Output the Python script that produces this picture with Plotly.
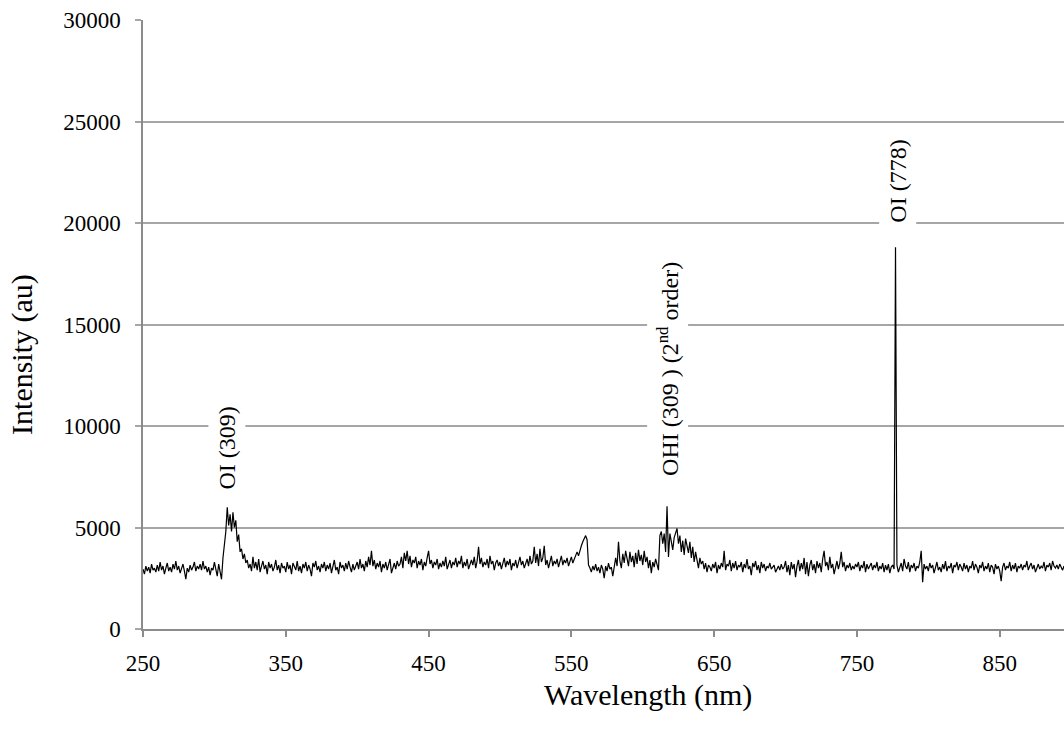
import plotly.graph_objects as go

# Wavelength grid (nm), 1 nm step
wavelength_start = 250

intensity = [
    # 250-259
    2950, 2700, 3100, 2850, 3050, 2750, 3200, 2900, 3000, 2800,
    # 260-269
    3150, 2850, 3300, 2900, 3100, 2700, 3000, 3250, 2850, 3050,
    # 270-279
    2800, 3200, 2950, 3350, 2900, 3100, 2750, 3000, 3200, 2850,
    # 280-289
    2450, 3000, 2800, 3150, 2900, 3050, 3300, 2850, 3100, 2950,
    # 290-299
    3200, 2900, 3350, 2950, 3100, 2800, 3050, 2650, 3000, 2900,
    # 300-309
    3300, 2950, 2600, 3200, 2850, 2450, 3500, 4200, 4800, 6000,
    # 310-319
    5100, 5650, 4800, 5750, 5000, 5350, 4300, 4650, 3800, 3950,
    # 320-329
    3450, 3700, 3250, 3400, 3000, 3200, 2850, 3550, 3000, 3300,
    # 330-339
    2900, 3450, 2800, 3100, 3350, 2950, 3150, 2700, 3300, 3000,
    # 340-349
    3200, 2850, 3050, 3400, 2900, 3150, 2750, 3250, 3000, 3100,
    # 350-359
    2800, 3300, 2950, 3150, 2700, 3250, 3050, 2900, 3350, 2850,
    # 360-369
    3100, 2750, 3200, 3000, 3300, 2850, 3150, 2950, 2600, 3250,
    # 370-379
    3050, 3350, 2900, 3100, 2800, 3200, 3000, 3300, 2850, 3150,
    # 380-389
    2950, 3250, 2750, 3100, 3400, 2900, 3050, 2700, 3300, 3000,
    # 390-399
    3150, 2850, 3250, 2950, 3350, 3050, 2800, 3200, 2900, 3100,
    # 400-409
    3300, 2950, 3450, 3000, 3200, 2850, 3350, 3050, 3550, 3150,
    # 410-419
    3850, 3100, 3400, 2950, 3250, 3050, 3350, 2800, 3200, 3000,
    # 420-429
    3300, 2900, 3150, 3450, 2750, 3050, 3250, 2950, 3350, 3100,
    # 430-439
    3200, 3550, 3000, 3750, 3350, 3850, 3200, 3600, 3050, 3400,
    # 440-449
    3250, 3550, 3000, 3350, 3150, 3450, 2900, 3300, 3100, 3500,
    # 450-459
    3850, 3200, 3400, 3000, 3300, 3150, 3450, 2950, 3250, 3050,
    # 460-469
    3350, 3100, 3550, 2950, 3250, 3400, 3000, 3300, 3150, 3500,
    # 470-479
    3050, 3350, 3200, 3600, 3000, 3300, 3100, 3450, 2950, 3250,
    # 480-489
    3400, 3150, 3550, 3000, 3350, 4050, 3200, 3500, 3050, 3300,
    # 490-499
    3150, 3450, 3000, 3600, 3200, 3350, 2900, 3250, 3400, 3100,
    # 500-509
    3300, 2950, 3200, 3500, 3050, 3350, 3150, 3450, 2900, 3250,
    # 510-519
    3100, 3400, 3000, 3300, 3550, 3150, 3350, 3000, 3250, 3450,
    # 520-529
    3100, 3600, 3200, 3350, 4050, 3250, 3700, 3100, 3950, 3300,
    # 530-539
    3500, 4100, 3150, 3400, 3000, 3300, 3600, 3100, 3350, 3200,
    # 540-549
    3450, 3050, 3300, 3600, 3150, 3400, 3250, 3500, 3100, 3350,
    # 550-559
    3550, 3250, 3450, 3650, 3800, 3600, 3900, 4100, 4300, 4450,
    # 560-569
    4600, 4400, 3150, 3000, 2800, 3100, 2900, 3200, 2850, 3050,
    # 570-579
    2750, 3150, 2950, 2500, 3100, 2850, 3250, 2950, 3050, 2600,
    # 580-589
    3200, 3500, 3100, 4300, 3350, 3000, 3700, 3250, 3850, 3400,
    # 590-599
    3100, 3800, 3300, 3600, 3050, 3750, 3200, 3900, 3350, 3650,
    # 600-609
    3150, 3850, 3300, 3550, 3000, 3400, 2750, 3300, 3050, 3450,
    # 610-619
    3100, 2900, 4600, 4800, 4200, 4700, 3800, 6050, 3550, 4700,
    # 620-629
    4300, 3900, 4500, 4800, 4950, 4200, 4600, 3800, 4350, 3650,
    # 630-639
    4450, 4100, 3750, 4300, 3500, 4050, 3300, 3800, 3400, 3000,
    # 640-649
    3500, 3200, 3350, 2950, 3250, 2800, 3150, 3050, 2850, 3200,
    # 650-659
    3000, 3300, 2750, 3150, 2950, 3250, 3050, 3850, 2900, 3200,
    # 660-669
    3100, 3400, 2850, 3250, 3000, 3350, 2900, 3150, 3050, 3300,
    # 670-679
    2800, 3200, 3000, 3450, 2950, 3100, 2650, 3250, 3050, 3350,
    # 680-689
    2900, 3150, 2750, 3300, 3000, 3200, 2850, 3100, 3000, 3250,
    # 690-699
    2950, 3050, 3150, 2800, 3000, 3100, 2900, 3200, 2950, 3050,
    # 700-709
    3350, 2800, 3150, 2650, 3300, 2950, 3200, 2550, 3100, 3400,
    # 710-719
    2850, 3250, 2950, 3500, 2700, 3300, 2600, 3150, 3400, 2900,
    # 720-729
    3200, 2750, 3350, 3000, 3250, 2800, 3450, 3850, 3100, 3300,
    # 730-739
    2900, 3550, 3000, 3200, 2700, 3100, 3350, 2950, 3250, 3800,
    # 740-749
    3050, 3300, 2850, 3150, 3000, 3250, 2900, 3100, 2950, 3200,
    # 750-759
    3050, 3300, 2850, 3150, 3000, 3350, 2800, 3200, 2950, 3100,
    # 760-769
    3250, 2900, 3150, 3000, 3300, 2850, 3100, 2950, 3250, 2800,
    # 770-779
    3150, 2900, 3200, 2750, 3050, 3150, 2950, 18800, 3150, 2800,
    # 780-789
    3000, 3250, 2850, 3450, 3100, 2950, 3300, 2800, 3150, 3000,
    # 790-799
    3250, 2850, 3100, 3000, 3300, 3850, 2300, 3200, 2950, 3100,
    # 800-809
    2850, 3250, 3000, 3150, 2750, 3100, 3300, 2900, 3050, 2800,
    # 810-819
    3200, 2950, 3350, 2850, 3100, 3000, 3250, 2750, 3150, 3050,
    # 820-829
    3300, 2900, 3200, 3050, 2850, 3250, 2950, 3150, 2800, 3100,
    # 830-839
    3000, 3350, 2900, 3200, 3050, 2750, 3150, 3000, 3300, 2850,
    # 840-849
    3100, 2950, 3250, 2800, 3150, 3050, 2700, 3200, 2950, 3100,
    # 850-859
    2850, 2350, 3050, 3250, 2900, 3100, 3000, 3300, 2850, 3150,
    # 860-869
    2950, 3250, 2800, 3100, 3000, 3200, 2900, 3150, 3050, 3350,
    # 870-879
    2900, 3100, 3250, 2950, 3150, 2800, 3050, 3200, 2950, 3100,
    # 880-889
    3000, 3300, 2850, 3150, 3050, 3250, 2900, 3350, 3100, 3000,
    # 890-895
    3150, 2950, 3200, 3050, 2900, 3100,
]
wavelength = list(range(wavelength_start, wavelength_start + len(intensity)))

# Peak labels
label_texts = ["OI (309)", "OHI (309 ) (2<sup>nd</sup> order)", "OI (778)"]
label_x = [309, 617.5, 778.5]
label_y = [8900, 12800, 22070]

x_ticks = [250, 350, 450, 550, 650, 750, 850]
y_ticks = [0, 5000, 10000, 15000, 20000, 25000, 30000]

x_title = "Wavelength (nm)"
y_title = "Intensity (au)"

font_family = "Liberation Serif, Times New Roman, serif"

fig = go.Figure()
fig.add_trace(go.Scatter(
    x=wavelength, y=intensity, mode="lines",
    line=dict(color="black", width=1.2),
    showlegend=False, hoverinfo="skip",
))

for t, xv, yv in zip(label_texts, label_x, label_y):
    fig.add_annotation(
        x=xv, y=yv, xref="x", yref="y", text=t, textangle=-90,
        showarrow=False, bgcolor="white", borderpad=5,
        font=dict(family=font_family, size=24, color="black"),
    )

# Axis titles (placed as annotations: the reference plot area extends past the window)
fig.add_annotation(
    x=0.548, y=-0.1085, xref="paper", yref="paper", text=x_title,
    showarrow=False, xanchor="center", yanchor="middle",
    font=dict(family=font_family, size=30, color="black"),
)
fig.add_annotation(
    x=0, y=0.45, xref="paper", yref="paper", text=y_title, textangle=-90,
    showarrow=False, xanchor="center", yanchor="middle", xshift=-121,
    font=dict(family=font_family, size=30, color="black"),
)

fig.update_layout(
    width=1064, height=733,
    margin=dict(l=143, r=0, t=20, b=104),
    paper_bgcolor="white", plot_bgcolor="white",
    font=dict(family=font_family, size=23, color="black"),
    xaxis=dict(
        range=[250, 895], tickvals=x_ticks, ticktext=[str(v) for v in x_ticks],
        showgrid=False, zeroline=False,
        showline=True, linecolor="#8c8c8c", linewidth=1.5,
        ticks="outside", ticklen=6, tickcolor="#8c8c8c", tickwidth=1.5,
        ticklabelstandoff=7,
        tickfont=dict(family=font_family, size=23),
    ),
    yaxis=dict(
        range=[0, 30000], tickvals=y_ticks, ticktext=[str(v) for v in y_ticks],
        showgrid=True, gridcolor="#a6a6a6", gridwidth=1.5,
        zeroline=False,
        showline=True, linecolor="#8c8c8c", linewidth=1.5,
        ticks="outside", ticklen=6, tickcolor="#a6a6a6", tickwidth=1.5,
        ticklabelstandoff=10,
        tickfont=dict(family=font_family, size=23),
    ),
)

fig.write_html("out.html")
